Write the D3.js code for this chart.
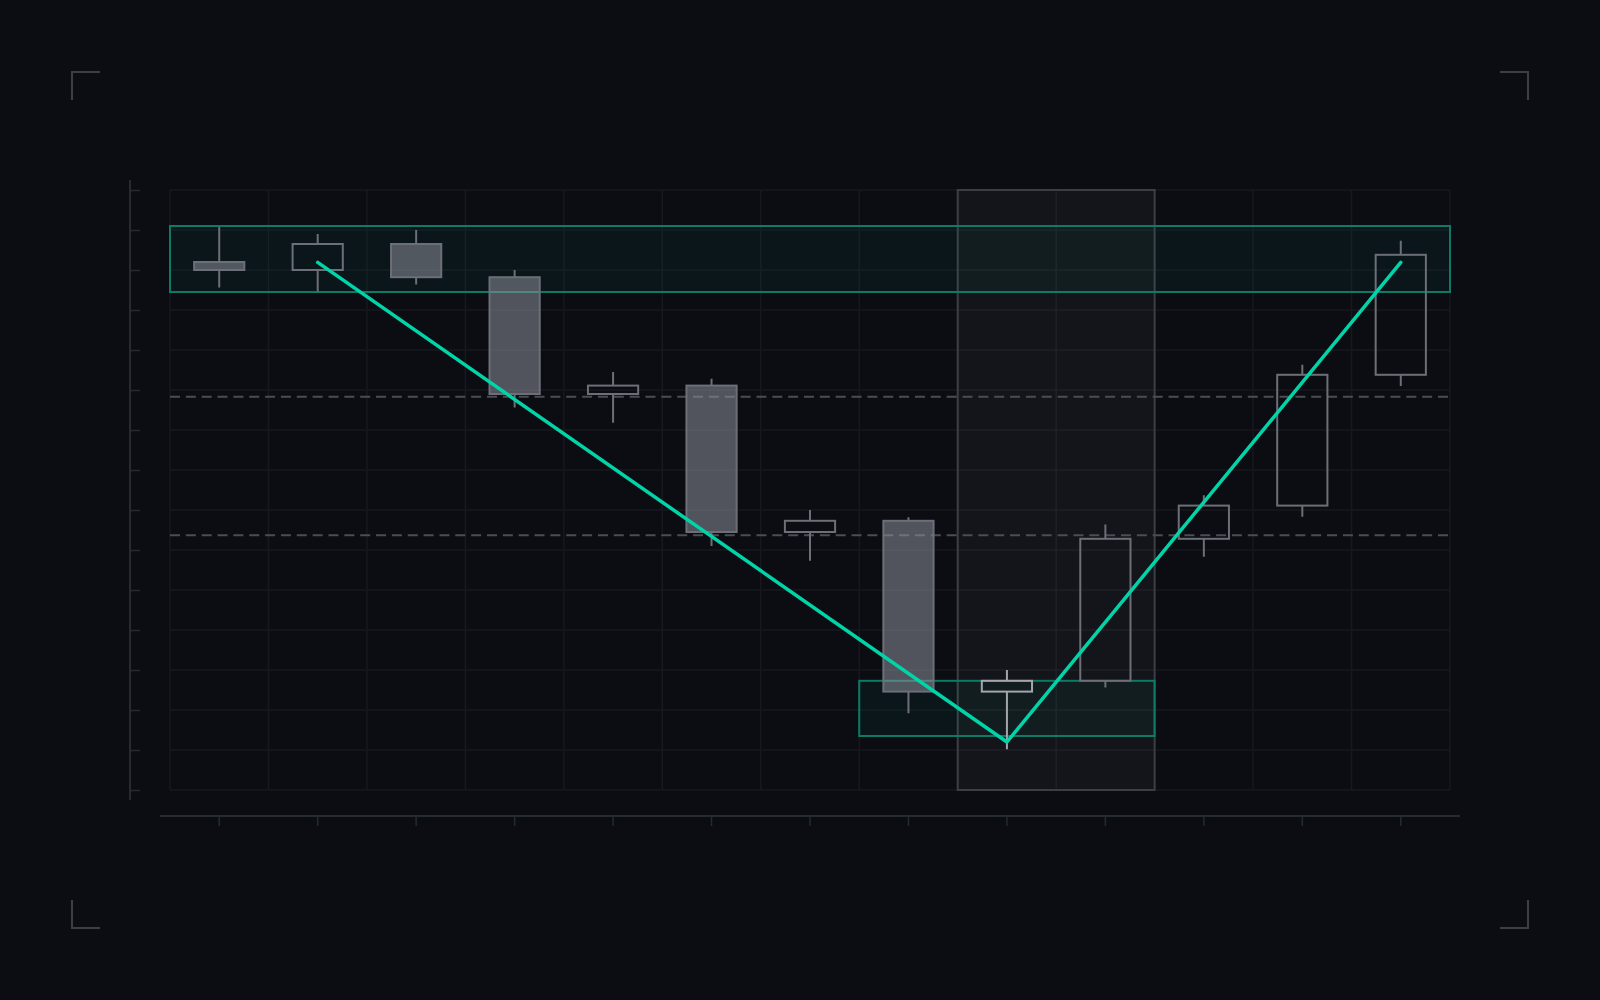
<!DOCTYPE html>
<html>
<head>
<meta charset="utf-8">
<script src="https://cdn.jsdelivr.net/npm/d3@7"></script>
<style>
  html, body { margin: 0; padding: 0; background: #0b0d12; }
  svg { display: block; }
</style>
</head>
<body>
<svg id="chart" width="1600" height="1000"></svg>
<script>
// data
const sessions = ["S1", "S2", "S3", "S4", "S5", "S6", "S7", "S8", "S9", "S10", "S11", "S12", "S13"];
const opens  = [232.0, 230.0, 236.5, 228.2, 199.0, 201.1, 164.5, 167.3, 124.6, 127.3, 162.8, 171.1, 203.8];
const highs  = [240.8, 239.0, 240.0, 230.0, 204.5, 202.8, 170.0, 168.2, 130.0, 166.4, 173.7, 206.3, 237.3];
const lows   = [225.6, 224.6, 226.4, 195.6, 191.8, 161.0, 157.3, 119.2, 110.2, 125.6, 158.3, 168.3, 201.0];
const closes = [230.0, 236.5, 228.2, 199.0, 201.1, 164.5, 167.3, 124.6, 127.3, 162.8, 171.1, 203.8, 233.8];
const priceTicks = d3.range(100, 251, 10);
const levels = [198.3, 163.7];
const zones = [
  { from: "S1", to: "S13", top: 241.0, bottom: 224.5 },
  { from: "S8", to: "S10", top: 127.3, bottom: 113.5 },
];
const highlight = { from: "S9", to: "S10" };
const swing = [["S2", 231.9], ["S9", 112.0], ["S13", 231.9]];

const plot = { left: 170, right: 1450, top: 190, bottom: 790 };

const svg = d3.select("#chart");

const x = d3.scaleBand().domain(sessions).range([plot.left, plot.right]).padding(0);
const y = d3.scaleLinear().domain([100, 250]).range([plot.bottom, plot.top]);
const bw = x.bandwidth();
const cx = (s) => x(s) + bw / 2;

// corner brackets
const cornerLen = 28;
const corners = [
  [72, 72, 1, 1], [1528, 72, -1, 1], [72, 928, 1, -1], [1528, 928, -1, -1],
];
svg.append("g")
  .selectAll("path")
  .data(corners)
  .join("path")
  .attr("d", (d) => `M${d[0] + d[2] * cornerLen},${d[1]}H${d[0]}V${d[1] + d[3] * cornerLen}`)
  .attr("fill", "none")
  .attr("stroke", "#3b3e47")
  .attr("stroke-width", 2);

// grid
const grid = svg.append("g").attr("stroke", "#17191f").attr("stroke-width", 1.5);
grid.selectAll("line.h")
  .data(priceTicks)
  .join("line")
  .attr("class", "h")
  .attr("x1", plot.left).attr("x2", plot.right)
  .attr("y1", (d) => y(d)).attr("y2", (d) => y(d));
grid.selectAll("line.v")
  .data(d3.range(sessions.length + 1))
  .join("line")
  .attr("class", "v")
  .attr("x1", (i) => plot.left + i * bw).attr("x2", (i) => plot.left + i * bw)
  .attr("y1", plot.top).attr("y2", plot.bottom);

// highlighted sessions
svg.append("rect")
  .attr("x", x(highlight.from))
  .attr("y", plot.top)
  .attr("width", x(highlight.to) + bw - x(highlight.from))
  .attr("height", plot.bottom - plot.top)
  .attr("fill", "#ffffff")
  .attr("fill-opacity", 0.035)
  .attr("stroke", "#3c3e45")
  .attr("stroke-width", 2);

// zones
svg.append("g")
  .selectAll("rect")
  .data(zones)
  .join("rect")
  .attr("x", (d) => x(d.from))
  .attr("y", (d) => y(d.top))
  .attr("width", (d) => x(d.to) + bw - x(d.from))
  .attr("height", (d) => y(d.bottom) - y(d.top))
  .attr("fill", "#00c8a0")
  .attr("fill-opacity", 0.05)
  .attr("stroke", "#0d7a65")
  .attr("stroke-width", 2);

// dashed levels
svg.append("g")
  .selectAll("line")
  .data(levels)
  .join("line")
  .attr("x1", plot.left).attr("x2", plot.right)
  .attr("y1", (d) => y(d)).attr("y2", (d) => y(d))
  .attr("stroke", "#4b4d54")
  .attr("stroke-width", 2)
  .attr("stroke-dasharray", "10,5.85");

// candles
const candles = sessions.map((s, i) => ({
  s, o: opens[i], h: highs[i], l: lows[i], c: closes[i],
}));
const candleW = bw * 0.51;
const strokeOf = (d) => (d.s === "S9" ? "#a3a6ad" : "#6c6f77");

const cg = svg.append("g")
  .selectAll("g")
  .data(candles)
  .join("g");

// upper and lower wick
cg.append("path")
  .attr("d", (d) => {
    const xc = cx(d.s);
    return `M${xc},${y(d.h)}V${y(Math.max(d.o, d.c))}M${xc},${y(Math.min(d.o, d.c))}V${y(d.l)}`;
  })
  .attr("stroke", strokeOf)
  .attr("stroke-width", 2);

cg.append("rect")
  .attr("x", (d) => cx(d.s) - candleW / 2)
  .attr("y", (d) => y(Math.max(d.o, d.c)))
  .attr("width", candleW)
  .attr("height", (d) => Math.abs(y(d.o) - y(d.c)))
  .attr("fill", (d) => (d.c < d.o ? "rgba(140,144,154,0.55)" : "none"))
  .attr("stroke", strokeOf)
  .attr("stroke-width", 2);

// swing line
svg.append("path")
  .datum(swing)
  .attr("d", d3.line().x((d) => cx(d[0])).y((d) => y(d[1])))
  .attr("fill", "none")
  .attr("stroke", "#00d4a8")
  .attr("stroke-width", 3.5)
  .attr("stroke-linecap", "round")
  .attr("stroke-linejoin", "round");

// y axis
const yAxis = svg.append("g")
  .attr("transform", "translate(130,0)")
  .call(d3.axisRight(y).tickValues(priceTicks).tickSize(10).tickFormat(""));
yAxis.select(".domain").remove();
yAxis.selectAll(".tick line").attr("stroke", "#262a31").attr("stroke-width", 1.5);
yAxis.append("line")
  .attr("y1", plot.top - 10).attr("y2", plot.bottom + 10)
  .attr("stroke", "#262a31").attr("stroke-width", 2);

// x axis
const xAxis = svg.append("g")
  .attr("transform", "translate(0,816)")
  .call(d3.axisBottom(x).tickSize(10).tickFormat(""));
xAxis.select(".domain").remove();
xAxis.selectAll(".tick line").attr("stroke", "#262a31").attr("stroke-width", 1.5);
xAxis.append("line")
  .attr("x1", plot.left - 10).attr("x2", plot.right + 10)
  .attr("stroke", "#262a31").attr("stroke-width", 2);
</script>
</body>
</html>
